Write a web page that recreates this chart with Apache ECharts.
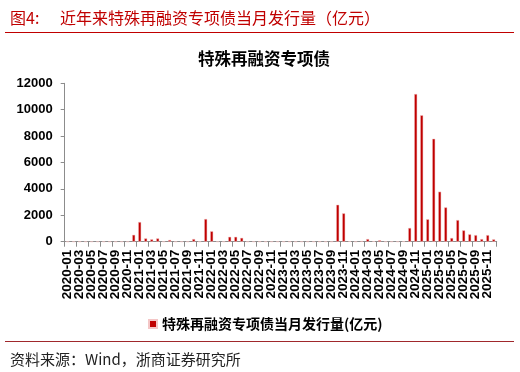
<!DOCTYPE html>
<html>
<head>
<meta charset="utf-8">
<script src="https://cdn.jsdelivr.net/npm/echarts@6/dist/echarts.min.js"></script>
<style>
  html, body { margin: 0; padding: 0; background: #fff; }
  #box { width: 520px; height: 372px; }
</style>
</head>
<body>
<div id="box"></div>
<script>
// 月份 2020-01 ~ 2025-12
const aYears = ['2020', '2021', '2022', '2023', '2024', '2025'];
const aMonths = [];
aYears.forEach(y => {
    for (let m = 1; m <= 12; m++) aMonths.push(`${y}-${String(m).padStart(2, '0')}`);
});

// 特殊再融资专项债当月发行量(亿元)，按月读取
const aValues2020 = [0, 0, 0, 0, 0, 0, 0, 0, 0, 0, 0, 520];
const aValues2021 = [1490, 250, 180, 250, 0, 130, 0, 0, 0, 200, 0, 1720];
const aValues2022 = [790, 0, 0, 370, 370, 290, 0, 0, 0, 0, 0, 0];
const aValues2023 = [0, 0, 0, 0, 0, 0, 0, 0, 0, 2800, 2150, 30];
const aValues2024 = [0, 50, 200, 30, 110, 0, 0, 0, 20, 1040, 11190, 9580];
const aValues2025 = [1700, 7800, 3790, 2600, 280, 1640, 860, 560, 500, 200, 500, 180];
const aValues = [].concat(aValues2020, aValues2021, aValues2022, aValues2023, aValues2024, aValues2025);

const sSeriesName = '特殊再融资专项债当月发行量(亿元)';
const sRed = '#C00000';
const sCjk = 'Noto Sans CJK SC';

// 标签太挤会被自动隐藏首尾，所以拆成两条轴各画一半标签
const oLabelCommon = {
    rotate: 90, margin: 8,
    color: '#000', fontSize: 13.5, fontWeight: 'bold', fontFamily: 'Liberation Sans',
};

const myChart = echarts.init(document.getElementById('box'), null, { renderer: 'canvas' });
const option = {
    animation: false,
    backgroundColor: '#fff',
    title: [{
        text: '图4:',
        left: 5, top: 5,
        textStyle: { color: sRed, fontSize: 16, fontWeight: 'normal', fontFamily: sCjk },
    }, {
        text: '近年来特殊再融资专项债当月发行量（亿元）',
        left: 55, top: 5,
        textStyle: { color: sRed, fontSize: 16, fontWeight: 'normal', fontFamily: sCjk },
    }, {
        text: '特殊再融资专项债',
        left: 259, top: 45, textAlign: 'center',
        textStyle: { color: '#000', fontSize: 16.5, fontWeight: 'bold', fontFamily: sCjk },
    }, {
        text: '资料来源：Wind，浙商证券研究所',
        left: 5, top: 347,
        textStyle: { color: '#222', fontSize: 15, fontWeight: 'normal', fontFamily: sCjk },
    }],
    graphic: [
        { type: 'line', shape: { x1: 5, y1: 32.5, x2: 514, y2: 32.5 }, style: { stroke: sRed, lineWidth: 1 } },
        { type: 'line', shape: { x1: 5, y1: 341.5, x2: 514, y2: 341.5 }, style: { stroke: '#a0282c', lineWidth: 1 } },
    ],
    legend: {
        data: [sSeriesName],
        left: 143, top: 312,
        itemWidth: 8, itemHeight: 8, itemGap: 4,
        icon: 'rect',
        textStyle: { color: '#000', fontSize: 14, fontWeight: 'bold', fontFamily: sCjk },
    },
    grid: { left: 64.7, right: 23.3, top: 83.3, bottom: 130.3, containLabel: false },
    xAxis: [{
        type: 'category',
        data: aMonths,
        boundaryGap: true,
        position: 'bottom',
        axisLine: { lineStyle: { color: '#8c8c8c', width: 1 } },
        axisTick: { show: true, interval: 1, length: 5, lineStyle: { color: '#8c8c8c' } },
        axisLabel: { ...oLabelCommon, interval: idx => idx % 4 === 0, showMinLabel: true },
    }, {
        type: 'category',
        data: aMonths,
        boundaryGap: true,
        position: 'bottom',
        offset: 0,
        axisLine: { show: false },
        axisTick: { show: false },
        axisLabel: { ...oLabelCommon, interval: idx => idx % 4 === 2 },
    }],
    yAxis: {
        type: 'value',
        min: 0, max: 12000, interval: 2000,
        splitLine: { show: false },
        axisLine: { show: true, lineStyle: { color: '#8c8c8c', width: 1 } },
        axisTick: { show: true, length: 4, lineStyle: { color: '#8c8c8c' } },
        axisLabel: {
            color: '#000', fontSize: 13, fontWeight: 'bold', fontFamily: 'Liberation Sans', margin: 12,
            formatter: v => String(v),
        },
    },
    series: [{
        name: sSeriesName,
        type: 'bar',
        xAxisIndex: 0,
        data: aValues,
        barWidth: '50%',
        itemStyle: { color: sRed, borderColor: '#f4c6c6', borderWidth: 0.5 },
    }],
};
myChart.setOption(option);
</script>
</body>
</html>
